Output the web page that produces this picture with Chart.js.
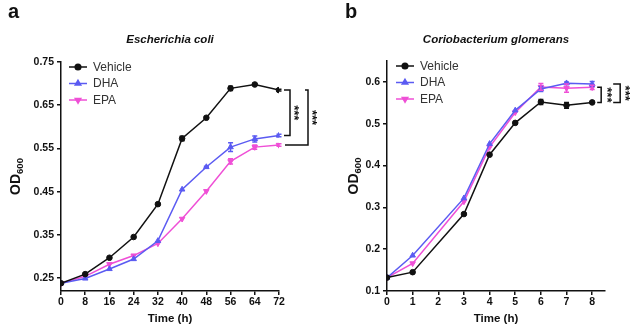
<!DOCTYPE html>
<html>
<head>
<meta charset="utf-8">
<script src="https://cdn.jsdelivr.net/npm/chart.js@4.4.1/dist/chart.umd.min.js"></script>
<style>
  body { margin: 0; background: #fff; }
  .panel { position: absolute; top: 0; width: 320px; height: 329px; }
  #wrapA { left: 0; }
  #wrapB { left: 320px; }
</style>
</head>
<body>
<div class="panel" id="wrapA"><canvas id="chartA"></canvas></div>
<div class="panel" id="wrapB"><canvas id="chartB"></canvas></div>
<script>
// Panel a - Escherichia coli
const hoursA = [0, 8, 16, 24, 32, 40, 48, 56, 64, 72];
const vehicleA = [0.238, 0.259, 0.297, 0.345, 0.421, 0.573, 0.621, 0.689, 0.698, 0.685];
const dhaA = [0.238, 0.249, 0.271, 0.294, 0.336, 0.455, 0.507, 0.553, 0.572, 0.580];
const epaA = [0.238, 0.254, 0.282, 0.302, 0.330, 0.387, 0.451, 0.520, 0.553, 0.558];
const vehicleErrA = [0, 0, 0, 0, 0, 0.005, 0, 0.005, 0.002, 0.002];
const dhaErrA = [0, 0, 0, 0, 0, 0, 0.002, 0.010, 0.007, 0.003];
const epaErrA = [0, 0, 0, 0, 0, 0, 0, 0.006, 0.005, 0.003];
const yTicksA = [0.25, 0.35, 0.45, 0.55, 0.65, 0.75];
const xTicksA = [0, 8, 16, 24, 32, 40, 48, 56, 64, 72];

// Panel b - Coriobacterium glomerans
const hoursB = [0, 1, 3, 4, 5, 6, 7, 8];
const vehicleB = [0.132, 0.145, 0.284, 0.426, 0.502, 0.552, 0.544, 0.551];
const dhaB = [0.132, 0.185, 0.322, 0.452, 0.532, 0.583, 0.597, 0.595];
const epaB = [0.132, 0.166, 0.314, 0.444, 0.527, 0.588, 0.585, 0.587];
const vehicleErrB = [0, 0, 0, 0, 0, 0.006, 0.007, 0.002];
const dhaErrB = [0, 0, 0, 0, 0, 0.006, 0.003, 0.006];
const epaErrB = [0, 0, 0, 0, 0, 0.008, 0.010, 0.005];
const yTicksB = [0.1, 0.2, 0.3, 0.4, 0.5, 0.6];
const xTicksB = [0, 1, 2, 3, 4, 5, 6, 7, 8];

const seriesNames = ['Vehicle', 'DHA', 'EPA'];
const FONT = "'Liberation Sans', Arial, sans-serif";
const BLACK = '#111';
const BLUE = '#5b5bf2';
const PINK = '#ef4fd6';

function pts(xs, ys) {
  return xs.map((x, i) => ({ x: x, y: ys[i] }));
}

function ds(label, xs, ys, errs, color, style, rot) {
  return {
    label: label,
    data: pts(xs, ys),
    errors: errs,
    borderColor: color,
    backgroundColor: color,
    borderWidth: 1.5,
    pointStyle: style,
    pointRotation: rot,
    pointRadius: style === 'circle' ? 2.8 : 3.2,
    pointBorderWidth: 1,
    tension: 0
  };
}

// error bars, legend, titles and significance brackets
const decor = {
  id: 'decor',
  afterDatasetsDraw(chart) {
    const ctx = chart.ctx;
    const o = chart.options.plugins.decor;
    const xs = chart.scales.x, ys = chart.scales.y;
    ctx.save();
    // error bars
    chart.data.datasets.forEach(d => {
      ctx.strokeStyle = d.borderColor;
      ctx.lineWidth = 1.5;
      d.data.forEach((p, i) => {
        const e = d.errors[i];
        if (!e) return;
        const px = xs.getPixelForValue(p.x);
        const y1 = ys.getPixelForValue(p.y - e);
        const y2 = ys.getPixelForValue(p.y + e);
        ctx.beginPath();
        ctx.moveTo(px, y1); ctx.lineTo(px, y2);
        ctx.moveTo(px - 2.5, y1); ctx.lineTo(px + 2.5, y1);
        ctx.moveTo(px - 2.5, y2); ctx.lineTo(px + 2.5, y2);
        ctx.stroke();
      });
    });
    // legend
    chart.data.datasets.forEach((d, i) => {
      const y = o.legendY + i * 16.5;
      ctx.strokeStyle = d.borderColor;
      ctx.lineWidth = 1.5;
      ctx.beginPath();
      ctx.moveTo(o.legendX, y); ctx.lineTo(o.legendX + 18, y);
      ctx.stroke();
      ctx.fillStyle = d.borderColor;
      Chart.helpers.drawPoint(ctx, {
        pointStyle: d.pointStyle, radius: d.pointRadius,
        rotation: d.pointRotation, borderWidth: 1
      }, o.legendX + 9, y);
      ctx.fillStyle = '#333';
      ctx.font = '12px ' + FONT;
      ctx.textAlign = 'left';
      ctx.textBaseline = 'middle';
      ctx.fillText(d.label, o.legendX + 24, y + 0.5);
    });
    // panel letter and title
    ctx.fillStyle = BLACK;
    ctx.font = 'bold 20px ' + FONT;
    ctx.textAlign = 'left';
    ctx.textBaseline = 'alphabetic';
    ctx.fillText(o.letter, o.letterX, 18);
    ctx.font = 'italic bold 11.5px ' + FONT;
    ctx.textAlign = 'center';
    ctx.textBaseline = 'middle';
    ctx.fillText(o.title, (chart.chartArea.left + chart.chartArea.right) / 2, 40);
    // y-axis title OD600
    ctx.save();
    ctx.translate(o.yTitleX, (chart.chartArea.top + chart.chartArea.bottom) / 2);
    ctx.rotate(-Math.PI / 2);
    ctx.font = 'bold 14px ' + FONT;
    const w1 = ctx.measureText('OD').width;
    ctx.font = 'bold 9.5px ' + FONT;
    const w2 = ctx.measureText('600').width;
    ctx.textAlign = 'left';
    ctx.textBaseline = 'alphabetic';
    ctx.font = 'bold 14px ' + FONT;
    ctx.fillText('OD', -(w1 + w2) / 2, 5);
    ctx.font = 'bold 9.5px ' + FONT;
    ctx.fillText('600', -(w1 + w2) / 2 + w1, 8);
    ctx.restore();
    // significance brackets
    ctx.strokeStyle = BLACK;
    ctx.lineWidth = 1.5;
    o.brackets.forEach(b => {
      const dA = chart.data.datasets[b.from], dB = chart.data.datasets[b.to];
      const last = dA.data.length - 1;
      const x0 = xs.getPixelForValue(dA.data[last].x);
      const yT = ys.getPixelForValue(dA.data[last].y);
      const yB = ys.getPixelForValue(dB.data[last].y);
      const xv = x0 + b.bar;
      ctx.beginPath();
      ctx.moveTo(x0 + b.topStart, yT); ctx.lineTo(xv, yT); ctx.lineTo(xv, yB); ctx.lineTo(x0 + b.botStart, yB);
      ctx.stroke();
      ctx.save();
      ctx.translate(xv + b.star, (yT + yB) / 2);
      ctx.rotate(Math.PI / 2);
      ctx.fillStyle = BLACK;
      ctx.font = 'bold 13px ' + FONT;
      ctx.textAlign = 'center';
      ctx.textBaseline = 'middle';
      ctx.fillText('***', 0, 1);
      ctx.restore();
    });
    ctx.restore();
  }
};

function makeChart(id, xsArr, sets, p) {
  return new Chart(document.getElementById(id), {
    type: 'line',
    data: { datasets: sets },
    plugins: [decor],
    options: {
      responsive: true,
      maintainAspectRatio: false,
      animation: false,
      layout: { padding: { left: 0, right: p.padRight, top: p.padTop, bottom: 0 } },
      plugins: {
        legend: { display: false },
        tooltip: { enabled: false },
        decor: p.decor
      },
      scales: {
        x: {
          type: 'linear',
          min: p.xMin, max: p.xMax,
          afterFit: s => { s.height = 38; },
          afterBuildTicks: s => { s.ticks = p.xTicks.map(v => ({ value: v })); },
          grid: { display: true, drawOnChartArea: false, drawTicks: true, tickLength: 4, color: BLACK, lineWidth: 1.5 },
          border: { display: true, color: BLACK, width: 1.5 },
          ticks: { color: BLACK, padding: 1, maxRotation: 0, font: { family: FONT, size: 10.5, weight: 'bold' } },
          title: { display: true, text: 'Time (h)', color: BLACK, padding: { top: 2, bottom: 3 }, font: { family: FONT, size: 11.5, weight: 'bold' } }
        },
        y: {
          min: p.yMin, max: p.yMax,
          afterFit: s => { s.width = p.yWidth; },
          afterBuildTicks: s => { s.ticks = p.yTicks.map(v => ({ value: v })); },
          grid: { display: true, drawOnChartArea: false, drawTicks: true, tickLength: 4, color: BLACK, lineWidth: 1.5 },
          border: { display: true, color: BLACK, width: 1.5 },
          ticks: { color: BLACK, padding: 3, font: { family: FONT, size: 10.5, weight: 'bold' },
            callback: v => v.toFixed(p.decimals) }
        }
      }
    }
  });
}

makeChart('chartA', hoursA, [
  ds(seriesNames[0], hoursA, vehicleA, vehicleErrA, BLACK, 'circle', 0),
  ds(seriesNames[1], hoursA, dhaA, dhaErrA, BLUE, 'triangle', 0),
  ds(seriesNames[2], hoursA, epaA, epaErrA, PINK, 'triangle', 180)
], {
  padRight: 41, padTop: 62, yWidth: 61,
  xMin: 0, xMax: 72, xTicks: xTicksA,
  yMin: 0.22, yMax: 0.75, yTicks: yTicksA, decimals: 2,
  decor: {
    letter: 'a', letterX: 8, title: 'Escherichia coli', yTitleX: 15,
    legendX: 69, legendY: 67,
    brackets: [
      { from: 0, to: 1, topStart: 5, botStart: 5, bar: 11, star: 5 },
      { from: 0, to: 2, topStart: 26, botStart: 6, bar: 29, star: 5 }
    ]
  }
});

makeChart('chartB', hoursB, [
  ds(seriesNames[0], hoursB, vehicleB, vehicleErrB, BLACK, 'circle', 0),
  ds(seriesNames[1], hoursB, dhaB, dhaErrB, BLUE, 'triangle', 0),
  ds(seriesNames[2], hoursB, epaB, epaErrB, PINK, 'triangle', 180)
], {
  padRight: 35, padTop: 61, yWidth: 67,
  xMin: 0, xMax: 8.5, xTicks: xTicksB,
  yMin: 0.1, yMax: 0.65, yTicks: yTicksB, decimals: 1,
  decor: {
    letter: 'b', letterX: 25, title: 'Coriobacterium glomerans', yTitleX: 33,
    legendX: 76, legendY: 66,
    brackets: [
      { from: 2, to: 0, topStart: 5, botStart: 5, bar: 9, star: 6 },
      { from: 1, to: 0, topStart: 21, botStart: 21, bar: 28, star: 5 }
    ]
  }
});
</script>
</body>
</html>
